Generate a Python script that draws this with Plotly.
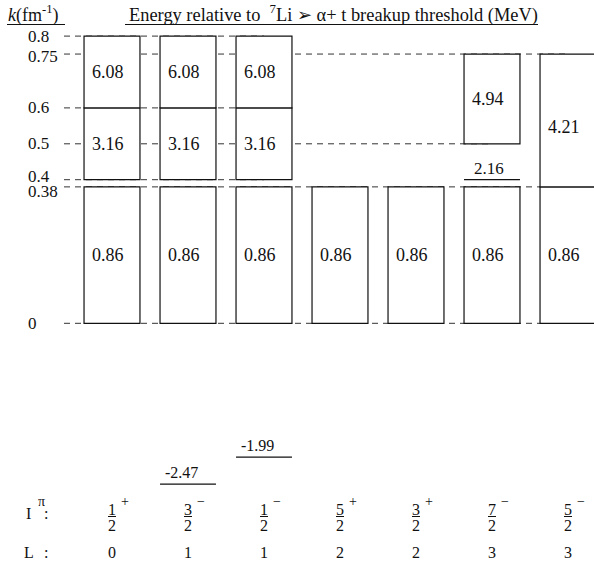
import plotly.graph_objects as go

# ---------------- data ----------------
spin_num = [1, 3, 1, 5, 3, 7, 5]
spin_den = [2, 2, 2, 2, 2, 2, 2]
parity = ["+", "−", "−", "+", "+", "−", "−"]
L_values = [0, 1, 1, 2, 2, 3, 3]

box_col = [0, 0, 0, 1, 1, 1, 2, 2, 2, 3, 4, 5, 5, 6, 6]
box_k_low = [0, 0.4, 0.6, 0, 0.4, 0.6, 0, 0.4, 0.6, 0, 0, 0, 0.5, 0, 0.38]
box_k_high = [0.38, 0.6, 0.8, 0.38, 0.6, 0.8, 0.38, 0.6, 0.8, 0.38, 0.38, 0.38, 0.75, 0.38, 0.75]
box_energy = [0.86, 3.16, 6.08, 0.86, 3.16, 6.08, 0.86, 3.16, 6.08, 0.86, 0.86, 0.86, 4.94, 0.86, 4.21]

level_col = [5]
level_k = [0.4]
level_energy = [2.16]

bound_col = [1, 2]
bound_energy = [-2.47, -1.99]

k_ticks = [0, 0.38, 0.4, 0.5, 0.6, 0.75, 0.8]
k_tick_labels = ["0", "0.38", "0.4", "0.5", "0.6", "0.75", "0.8"]

# ---------------- layout constants ----------------
W, H = 594, 571
X0_PX, X_STEP = 112.0, 76.0
K0_PX, K_SCALE = 323.3, 359.0
HW = 0.368
FONT = "Liberation Serif, Times New Roman, serif"
INK = "#111111"


def dx(px):
    return (px - X0_PX) / X_STEP


def py(px):
    return 1 - px / H


x_range = [dx(0), dx(W)]
y_range = [(K0_PX - H) / K_SCALE, K0_PX / K_SCALE]
# energy axis for the bound states (schematic placement)
E_ZERO_PX, E_SCALE = 345.1, 56.25
y2_range = [(E_ZERO_PX - H) / E_SCALE, E_ZERO_PX / E_SCALE]

fig = go.Figure()


def note(**kw):
    kw.setdefault("showarrow", False)
    kw.setdefault("xanchor", "center")
    kw.setdefault("yanchor", "middle")
    size = kw.pop("size", 16)
    kw["font"] = dict(family=FONT, size=size, color=INK)
    fig.add_annotation(**kw)


# dashed guide lines at each tick k
for k in k_ticks:
    cols = [c for c, lo, hi in zip(box_col, box_k_low, box_k_high) if abs(lo - k) < 1e-9 or abs(hi - k) < 1e-9]
    end = max(cols)
    fig.add_trace(go.Scatter(
        x=[dx(64), end], y=[k, k], mode="lines",
        line=dict(color="#333333", width=1, dash="6px,5px"),
        hoverinfo="skip", showlegend=False))

# resonance level line (2.16)
for c, k, e in zip(level_col, level_k, level_energy):
    fig.add_trace(go.Scatter(
        x=[c - HW, c + HW], y=[k, k], mode="lines",
        line=dict(color=INK, width=1.2), hoverinfo="skip", showlegend=False))
    note(x=c - 0.04, y=k, xref="x", yref="y", text=f"{e:.2f}", yanchor="bottom", size=17)

# bound states
for c, e in zip(bound_col, bound_energy):
    fig.add_trace(go.Scatter(
        x=[c - HW, c + HW], y=[e, e], mode="lines", yaxis="y2",
        line=dict(color=INK, width=1.2), hoverinfo="skip", showlegend=False))
    note(x=c - 0.08, y=e, xref="x", yref="y2", text=f"{e:.2f}", yanchor="bottom", yshift=1, size=16)

# boxes
shapes = []
for c, lo, hi, e in zip(box_col, box_k_low, box_k_high, box_energy):
    shapes.append(dict(type="rect", xref="x", yref="y", x0=c - HW, x1=c + HW, y0=lo, y1=hi,
                       line=dict(color=INK, width=1.2), fillcolor="white", layer="above"))
    ys = -7 if (hi - lo) > 0.3 and lo > 0 else 0
    note(x=c - 0.05, y=(lo + hi) / 2, xref="x", yref="y", text=f"{e:.2f}", yshift=ys, size=18)

# tick labels
tick_shift = {"0.4": 3, "0.38": -5, "0.75": -2}
for k, lab in zip(k_ticks, k_tick_labels):
    note(x=26 / W, y=k, xref="paper", yref="y", text=lab, xanchor="left",
         yshift=tick_shift.get(lab, 0), size=17)

# header
note(x=6 / W, y=py(14), xref="paper", yref="paper", xanchor="left",
     text="<i>k</i>(fm<sup>-1</sup>)", size=18)
note(x=127 / W, y=py(14), xref="paper", yref="paper", xanchor="left",
     text="Energy relative to  <sup>7</sup>Li ➢ α+ t breakup threshold (MeV)", size=18.4)
shapes.append(dict(type="line", xref="paper", yref="paper", x0=7 / W, x1=65 / W,
                   y0=py(24.5), y1=py(24.5), line=dict(color=INK, width=1.2)))
shapes.append(dict(type="line", xref="paper", yref="paper", x0=125 / W, x1=538 / W,
                   y0=py(24.5), y1=py(24.5), line=dict(color=INK, width=1.2)))

# bottom rows: I^pi and L
note(x=28.5 / W, y=py(513), xref="paper", yref="paper", text="I", size=16)
note(x=41 / W, y=py(501), xref="paper", yref="paper", text="π", size=14)
note(x=46 / W, y=py(513), xref="paper", yref="paper", text=":", size=16)
note(x=29 / W, y=py(552), xref="paper", yref="paper", text="L", size=16)
note(x=46 / W, y=py(552), xref="paper", yref="paper", text=":", size=16)

for c, (n, d, p, L) in enumerate(zip(spin_num, spin_den, parity, L_values)):
    note(x=c, y=py(509), xref="x", yref="paper", text=str(n), size=16)
    note(x=c, y=py(525), xref="x", yref="paper", text=str(d), size=16)
    note(x=c, y=py(501), xref="x", yref="paper", text=p, xshift=13, size=14)
    note(x=c, y=py(552), xref="x", yref="paper", text=str(L), size=16)
    shapes.append(dict(type="line", xref="x", yref="paper", x0=c - 4 / X_STEP, x1=c + 4 / X_STEP,
                       y0=py(516.5), y1=py(516.5), line=dict(color=INK, width=1)))

fig.update_layout(
    width=W, height=H,
    margin=dict(l=0, r=0, t=0, b=0),
    paper_bgcolor="white", plot_bgcolor="white",
    showlegend=False,
    shapes=shapes,
    xaxis=dict(range=x_range, visible=False, fixedrange=True),
    yaxis=dict(range=y_range, visible=False, fixedrange=True),
    yaxis2=dict(range=y2_range, visible=False, overlaying="y", fixedrange=True),
)

fig.write_html("out.html")
